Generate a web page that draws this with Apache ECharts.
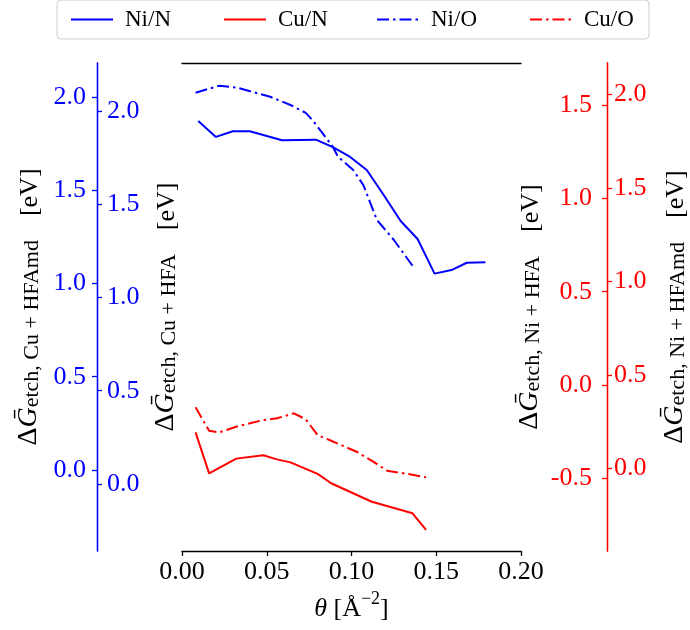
<!DOCTYPE html>
<html>
<head>
<meta charset="utf-8">
<script src="https://cdn.jsdelivr.net/npm/echarts@6/dist/echarts.min.js"></script>
<style>
  html, body { margin: 0; padding: 0; background: #ffffff; }
  #chart { width: 690px; height: 630px; }
</style>
</head>
<body>
<div id="chart"></div>
<script>
// Coverage axis and tick labels
const thetaTicks = [0, 0.05, 0.10, 0.15, 0.20];
const ticksCuHFAmd = [0, 0.5, 1.0, 1.5, 2.0];
const ticksCuHFA = [0, 0.5, 1.0, 1.5, 2.0];
const ticksNiHFA = [-0.5, 0, 0.5, 1.0, 1.5];
const ticksNiHFAmd = [0, 0.5, 1.0, 1.5, 2.0];

// Ni/N  (Ni + HFAmd etch free energy, eV)
const thetaNiN = [0.0096, 0.020, 0.030, 0.040, 0.059, 0.079, 0.089, 0.099, 0.109, 0.119, 0.129, 0.139, 0.149, 0.159, 0.168, 0.179];
const valueNiN = [1.857, 1.772, 1.802, 1.802, 1.754, 1.757, 1.717, 1.666, 1.595, 1.461, 1.322, 1.226, 1.041, 1.060, 1.099, 1.102];

// Cu/N  (Cu + HFAmd)
const thetaCuN = [0.008, 0.016, 0.032, 0.048, 0.056, 0.064, 0.080, 0.088, 0.112, 0.136, 0.144];
const valueCuN = [0.202, -0.018, 0.061, 0.079, 0.057, 0.041, -0.021, -0.071, -0.170, -0.232, -0.321];

// Ni/O  (Ni + HFA)
const thetaNiO = [0.008, 0.022, 0.032, 0.052, 0.064, 0.073, 0.077, 0.083, 0.089, 0.092, 0.101, 0.107, 0.115, 0.125, 0.137];
const valueNiO = [1.566, 1.603, 1.594, 1.544, 1.500, 1.458, 1.419, 1.348, 1.276, 1.223, 1.152, 1.071, 0.884, 0.777, 0.626];

// Cu/O  (Cu + HFA)
const thetaCuO = [0.008, 0.016, 0.022, 0.032, 0.048, 0.056, 0.066, 0.073, 0.080, 0.087, 0.103, 0.113, 0.121, 0.133, 0.144];
const valueCuO = [0.411, 0.285, 0.277, 0.307, 0.343, 0.352, 0.379, 0.347, 0.262, 0.236, 0.173, 0.119, 0.071, 0.054, 0.036];

const BLUE = '#0000ff';
const RED = '#ff0000';
const FONT = '"Liberation Serif", "DejaVu Serif", serif';
const DASHDOT = [12, 4, 2.5, 4];

const pairs = (xs, ys) => xs.map((x, i) => [x, ys[i]]);

function nameRich() {
  return {
    d: { fontSize: 28, fontFamily: FONT, color: '#000', lineHeight: 32, verticalAlign: 'bottom' },
    g: { fontSize: 28, fontFamily: FONT, fontStyle: 'italic', color: '#000', lineHeight: 32, verticalAlign: 'bottom' },
    s: { fontSize: 22, fontFamily: FONT, color: '#000', lineHeight: 23, verticalAlign: 'bottom' },
    u: { fontSize: 26, fontFamily: FONT, color: '#000', lineHeight: 32, verticalAlign: 'bottom', padding: [0, 0, 0, 24] }
  };
}

function yAxisDef(opt) {
  return {
    type: 'value',
    position: opt.position,
    offset: opt.offset,
    min: opt.min,
    max: opt.max,
    name: opt.name,
    nameLocation: 'middle',
    nameRotate: 90,
    nameGap: opt.nameGap,
    nameMoveOverlap: false,
    nameTextStyle: { rich: nameRich() },
    splitLine: { show: false },
    axisLine: { show: true, onZero: false, lineStyle: { color: opt.color, width: 1.3 } },
    axisTick: {
      show: true, inside: opt.inside, length: 5,
      customValues: opt.ticks,
      lineStyle: { color: opt.color, width: 1.3 }
    },
    axisLabel: {
      inside: opt.inside,
      margin: opt.margin,
      customValues: opt.ticks,
      formatter: v => v.toFixed(1),
      color: opt.color,
      fontSize: 26,
      fontFamily: FONT
    }
  };
}

const chart = echarts.init(document.getElementById('chart'), null, { renderer: 'canvas' });

chart.setOption({
  animation: false,
  backgroundColor: '#ffffff',
  grid: { left: 182, right: 169, top: 63, bottom: 79, containLabel: false, outerBoundsMode: 'none' },
  legend: {
    left: 57,
    top: 0,
    padding: [7, 5, 7, 13],
    itemWidth: 42,
    itemHeight: 14,
    itemGap: 38,
    borderColor: '#cccccc',
    borderWidth: 1,
    borderRadius: 4,
    backgroundColor: '#ffffff',
    itemStyle: { opacity: 0, borderWidth: 0 },
    textStyle: { fontSize: 23, fontFamily: FONT, color: '#000', width: 60, padding: [0, 0, 0, 7], lineHeight: 25 },
    data: ['Ni/N', 'Cu/N', 'Ni/O', 'Cu/O']
  },
  xAxis: [
    {
      type: 'value',
      position: 'bottom',
      min: 0,
      max: 0.2,
      interval: 0.05,
      name: '{i|θ} {n|[Å}{sup|−2}{n|]}',
      nameLocation: 'middle',
      nameGap: 39,
      nameTextStyle: {
        rich: {
          i: { fontSize: 26, fontFamily: FONT, fontStyle: 'italic', color: '#000', lineHeight: 32, verticalAlign: 'bottom' },
          n: { fontSize: 26, fontFamily: FONT, color: '#000', lineHeight: 32, verticalAlign: 'bottom' },
          sup: { fontSize: 18, fontFamily: FONT, color: '#000', lineHeight: 20, verticalAlign: 'top' }
        },
        fontSize: 26, fontFamily: FONT, color: '#000'
      },
      splitLine: { show: false },
      axisLine: { show: true, onZero: false, lineStyle: { color: '#000', width: 1.3 } },
      axisTick: { show: true, length: 5, lineStyle: { color: '#000', width: 1.3 } },
      axisLabel: { formatter: v => v.toFixed(2), color: '#000', fontSize: 26, fontFamily: FONT, margin: 8 }
    },
    {
      type: 'value',
      position: 'top',
      min: 0,
      max: 0.2,
      splitLine: { show: false },
      axisLine: { show: true, onZero: false, lineStyle: { color: '#000', width: 1.3 } },
      axisTick: { show: false },
      axisLabel: { show: false }
    }
  ],
  yAxis: [
    yAxisDef({
      position: 'left', offset: 85, min: -0.434, max: 2.181, color: BLUE, inside: false, margin: 11,
      ticks: ticksCuHFAmd, nameGap: 54,
      name: '{d|Δ}{g|Ḡ}{s|etch, Cu + HFAmd}{u|[eV]}'
    }),
    yAxisDef({
      position: 'left', offset: 85, min: -0.359, max: 2.256, color: BLUE, inside: true, margin: 10,
      ticks: ticksCuHFA, nameGap: -83,
      name: '{d|Δ}{g|Ḡ}{s|etch, Cu + HFA}{u|[eV]}'
    }),
    yAxisDef({
      position: 'right', offset: 86, min: -0.889, max: 1.725, color: RED, inside: true, margin: 15,
      ticks: ticksNiHFA, nameGap: -95,
      name: '{d|Δ}{g|Ḡ}{s|etch, Ni + HFA}{u|[eV]}'
    }),
    yAxisDef({
      position: 'right', offset: 86, min: -0.442, max: 2.167, color: RED, inside: false, margin: 7,
      ticks: ticksNiHFAmd, nameGap: 50,
      name: '{d|Δ}{g|Ḡ}{s|etch, Ni + HFAmd}{u|[eV]}'
    })
  ],
  series: [
    {
      name: 'Ni/N', type: 'line', xAxisIndex: 0, yAxisIndex: 3, symbol: 'none',
      lineStyle: { color: BLUE, width: 2, type: 'solid' }, itemStyle: { color: BLUE },
      data: pairs(thetaNiN, valueNiN)
    },
    {
      name: 'Cu/N', type: 'line', xAxisIndex: 0, yAxisIndex: 0, symbol: 'none',
      lineStyle: { color: RED, width: 2, type: 'solid' }, itemStyle: { color: RED },
      data: pairs(thetaCuN, valueCuN)
    },
    {
      name: 'Ni/O', type: 'line', xAxisIndex: 0, yAxisIndex: 2, symbol: 'none',
      lineStyle: { color: BLUE, width: 2, type: DASHDOT }, itemStyle: { color: BLUE },
      data: pairs(thetaNiO, valueNiO)
    },
    {
      name: 'Cu/O', type: 'line', xAxisIndex: 0, yAxisIndex: 1, symbol: 'none',
      lineStyle: { color: RED, width: 2, type: DASHDOT }, itemStyle: { color: RED },
      data: pairs(thetaCuO, valueCuO)
    }
  ]
});
</script>
</body>
</html>
